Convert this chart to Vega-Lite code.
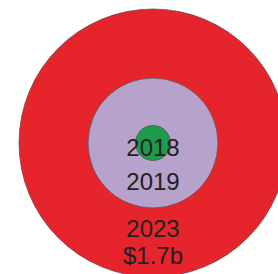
{
  "$schema": "https://vega.github.io/schema/vega-lite/v6.json",
  "width": 250,
  "height": 262,
  "autosize": {"type": "none"},
  "padding": {"left": 28, "top": 12, "right": 0, "bottom": 0},
  "background": "white",
  "config": {"view": {"stroke": null}},
  "data": {
    "values": [
      {"year": "2023", "value": 1.7, "label": "2023\n$1.7b"},
      {"year": "2019", "value": 0.40, "label": "2019"},
      {"year": "2018", "value": 0.029, "label": "2018"}
    ]
  },
  "layer": [
    {
      "mark": {"type": "point", "shape": "circle", "filled": true, "opacity": 1, "stroke": "#5a4848", "strokeWidth": 1, "strokeOpacity": 0.7},
      "encoding": {
        "size": {"field": "value", "type": "quantitative", "scale": {"type": "linear", "domain": [0, 1.7], "range": [0, 71824]}, "legend": null},
        "color": {"field": "year", "type": "nominal", "scale": {"domain": ["2018", "2019", "2023"], "range": ["#1e9a4c", "#b7a2cc", "#e6242b"]}, "legend": null}
      }
    },
    {
      "mark": {"type": "text", "font": "Liberation Sans", "fontSize": 24, "color": "#231f20", "baseline": "middle", "align": "center", "lineBreak": "\n", "lineHeight": 27},
      "encoding": {
        "text": {"field": "label", "type": "nominal"},
        "y": {"field": "value", "type": "quantitative", "scale": {"type": "pow", "exponent": 0.46, "domain": [0, 1.7], "range": [122.0, 217.6]}, "axis": null}
      }
    }
  ]
}
